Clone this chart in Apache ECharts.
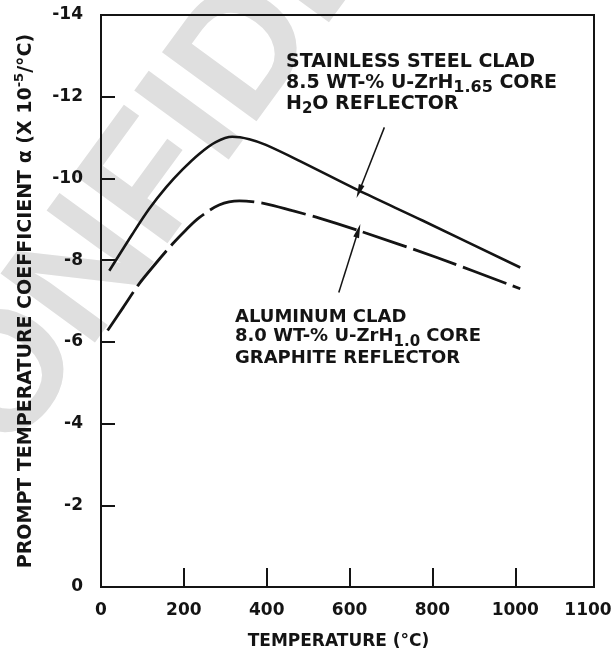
<!DOCTYPE html>
<html>
<head>
<meta charset="utf-8">
<script src="https://cdn.jsdelivr.net/npm/echarts@6/dist/echarts.min.js"></script>
<style>
  html, body { margin: 0; padding: 0; background: #fff; }
  #chart { width: 613px; height: 657px; }
</style>
</head>
<body>
<div id="chart"></div>
<script>
// Tick labels
const xTickLabels = ['0', '200', '400', '600', '800', '1000', '1100'];
const yTickLabels = ['-14', '-12', '-10', '-8', '-6', '-4', '-2', '0'];

// Stainless steel clad, 8.5 wt-% U-ZrH1.65 core, H2O reflector
const stainlessTemp  = [20, 76, 116, 157, 197, 237, 277, 317, 358, 398, 479, 623, 776, 1012];
const stainlessAlpha = [-7.74, -8.64, -9.25, -9.78, -10.22, -10.60, -10.89, -11.02, -10.96, -10.82, -10.43, -9.70, -8.97, -7.82];

// Aluminum clad, 8.0 wt-% U-ZrH1.0 core, graphite reflector
const aluminumTemp  = [16, 54, 92, 133, 173, 205, 237, 285, 334, 398, 462, 527, 623, 809, 1012];
const aluminumAlpha = [-6.28, -6.85, -7.42, -7.93, -8.40, -8.74, -9.04, -9.35, -9.45, -9.38, -9.21, -9.03, -8.72, -8.07, -7.30];

// Leader arrows: [tail, tip] in (temperature, alpha)
const stainlessArrow = [[684, -11.25], [623, -9.68]];
const aluminumArrow  = [[574, -7.21], [621, -8.72]];

const FONT = "'DejaVu Sans', 'Liberation Sans', sans-serif";
const INK = '#141414';

function pairs(xs, ys) { return xs.map((x, i) => [x, ys[i]]); }

const chart = echarts.init(document.getElementById('chart'), null, { renderer: 'canvas' });

function richFor(size, subSize) {
  return {
    b: { fontSize: size, fontWeight: 'bold', fontFamily: FONT, color: INK, lineHeight: 26, verticalAlign: 'middle' },
    s: { fontSize: subSize, fontWeight: 'bold', fontFamily: FONT, color: INK, lineHeight: 9, verticalAlign: 'bottom' }
  };
}

function note(x, y, text, size, subSize) {
  return {
    type: 'text', x: x, y: y, z: 10, silent: true,
    style: {
      text: text, fill: INK, align: 'left', verticalAlign: 'middle',
      font: 'bold ' + size + 'px ' + FONT,
      rich: richFor(size, subSize)
    }
  };
}

const tickFont = { fontSize: 17, fontWeight: 'bold', fontFamily: FONT, color: INK };

chart.setOption({
  animation: false,
  backgroundColor: '#fff',
  grid: {
    left: 101, right: 19, top: 15, bottom: 70,
    show: true, borderColor: INK, borderWidth: 2,
    outerBoundsMode: 'none'
  },
  xAxis: {
    type: 'value', min: 0, max: 1190, interval: 200,
    name: 'TEMPERATURE (°C)', nameLocation: 'middle', nameGap: 46,
    nameTextStyle: { fontSize: 17, fontWeight: 'bold', fontFamily: FONT, color: INK, padding: [0, 18, 0, 0] },
    axisLine: { show: true, lineStyle: { color: INK, width: 2 } },
    axisTick: { show: true, inside: true, length: 19, lineStyle: { color: INK, width: 2 } },
    axisLabel: Object.assign({
      show: true, showMaxLabel: true, showMinLabel: true, margin: 15,
      formatter: (v, i) => (i === xTickLabels.length - 1 ? '{r|' + xTickLabels[i] + '}' : xTickLabels[i]),
      rich: { r: Object.assign({ padding: [0, 12, 0, 0] }, tickFont) }
    }, tickFont),
    splitLine: { show: false }
  },
  yAxis: {
    type: 'value', min: -14, max: 0, interval: 2, inverse: true,
    name: '{a|PROMPT TEMPERATURE COEFFICIENT α (X 10}{p|-5}{a|/°C)}',
    nameLocation: 'middle', nameRotate: 90, nameGap: 62,
    nameTextStyle: {
      rich: {
        a: { fontSize: 19, fontWeight: 'bold', fontFamily: FONT, color: INK, lineHeight: 26, verticalAlign: 'middle' },
        p: { fontSize: 13, fontWeight: 'bold', fontFamily: FONT, color: INK, lineHeight: 13, verticalAlign: 'top' }
      }
    },
    axisLine: { show: true, lineStyle: { color: INK, width: 2 } },
    axisTick: { show: true, inside: true, length: 14, lineStyle: { color: INK, width: 2 } },
    axisLabel: Object.assign({
      show: true, margin: 18,
      formatter: (v, i) => yTickLabels[i]
    }, tickFont),
    splitLine: { show: false }
  },
  graphic: {
    elements: [
      {
        type: 'text', x: -100, y: 530, rotation: 0.94, z: -10, silent: true,
        style: { text: 'CONFIDENTIAL', fill: '#dfdfdf', font: 'bold 170px "Liberation Sans", sans-serif', align: 'left', verticalAlign: 'middle' }
      },
      note(286, 62, '{b|STAINLESS STEEL CLAD}', 19, 16),
      note(286, 83, '{b|8.5 WT-% U-ZrH}{s|1.65}{b| CORE}', 19, 16),
      note(286, 104, '{b|H}{s|2}{b|O REFLECTOR}', 19, 15),
      note(235, 317.5, '{b|ALUMINUM CLAD}', 18, 15),
      note(235, 336.5, '{b|8.0 WT-% U-ZrH}{s|1.0}{b| CORE}', 18, 15),
      note(235, 358.5, '{b|GRAPHITE REFLECTOR}', 18, 15)
    ]
  },
  series: [
    {
      name: 'Stainless steel clad', type: 'line',
      data: pairs(stainlessTemp, stainlessAlpha),
      showSymbol: false, smooth: 0.3, silent: true,
      lineStyle: { color: INK, width: 2.6, type: 'solid' },
      markLine: {
        silent: true, animation: false,
        symbol: ['none', 'triangle'], symbolSize: [6, 14],
        label: { show: false },
        lineStyle: { type: 'solid', color: INK, width: 1.5 },
        emphasis: { disabled: true },
        data: [
          [{ coord: stainlessArrow[0] }, { coord: stainlessArrow[1] }],
          [{ coord: aluminumArrow[0] }, { coord: aluminumArrow[1] }]
        ]
      }
    },
    {
      name: 'Aluminum clad', type: 'line',
      data: pairs(aluminumTemp, aluminumAlpha),
      showSymbol: false, smooth: 0.3, silent: true,
      lineStyle: { color: INK, width: 2.8, type: [46, 7] }
    }
  ]
});
</script>
</body>
</html>
